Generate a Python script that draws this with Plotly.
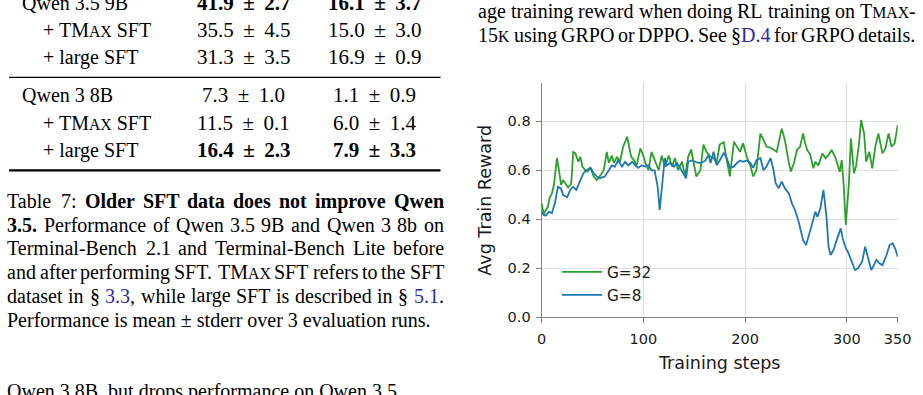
import plotly.graph_objects as go

# ---------------- data ----------------
g32_steps = [0, 2, 3, 6, 8, 10, 12, 15, 17, 19, 21, 24, 26, 29, 31, 33, 36, 38, 40, 43, 45, 48, 51, 54,
             57, 61, 64, 66, 69, 71, 74, 77, 80, 84, 86, 88, 91, 93, 97, 99, 102, 105, 108, 111, 115,
             118, 121, 125, 128, 131, 134, 138, 141, 144, 147, 149, 152, 156, 159, 162, 166, 169, 172,
             175, 179, 182, 185, 189, 192, 195, 198, 202, 205, 208, 211, 215, 218, 221, 226, 231, 236,
             239, 243, 245, 248, 251, 254, 257, 259, 261, 264, 267, 269, 272, 276, 279, 282, 285, 289,
             291, 293, 295, 297, 299, 302, 304, 307, 309, 312, 314, 317, 319, 322, 325, 328, 331, 335,
             338, 341, 344, 347, 350]
g32_reward = [0.465, 0.42, 0.43, 0.45, 0.49, 0.505, 0.54, 0.65, 0.60, 0.54, 0.56, 0.54, 0.53, 0.545,
              0.675, 0.67, 0.635, 0.655, 0.615, 0.60, 0.595, 0.61, 0.575, 0.56, 0.575, 0.60, 0.675,
              0.63, 0.66, 0.63, 0.655, 0.635, 0.695, 0.737, 0.695, 0.655, 0.64, 0.615, 0.69, 0.67,
              0.63, 0.60, 0.675, 0.64, 0.60, 0.66, 0.615, 0.66, 0.615, 0.65, 0.60, 0.635, 0.575,
              0.655, 0.685, 0.64, 0.575, 0.60, 0.705, 0.675, 0.655, 0.65, 0.63, 0.705, 0.715, 0.64,
              0.575, 0.717, 0.697, 0.675, 0.71, 0.65, 0.62, 0.575, 0.60, 0.75, 0.725, 0.697, 0.69,
              0.676, 0.77, 0.725, 0.63, 0.595, 0.63, 0.683, 0.696, 0.75, 0.71, 0.683, 0.663, 0.608,
              0.635, 0.62, 0.669, 0.649, 0.663, 0.683, 0.649, 0.615, 0.594, 0.642, 0.533, 0.377,
              0.547, 0.73, 0.588, 0.615, 0.71, 0.805, 0.75, 0.635, 0.676, 0.608, 0.696, 0.75, 0.669,
              0.69, 0.75, 0.696, 0.71, 0.785]

g8_steps = [0, 2, 4, 7, 10, 13, 16, 19, 21, 25, 28, 31, 34, 38, 41, 44, 48, 51, 54, 57, 62, 66, 69,
            72, 75, 79, 82, 85, 89, 92, 95, 98, 102, 105, 108, 111, 114, 116, 119, 121, 123, 126,
            130, 133, 136, 139, 142, 144, 148, 151, 154, 157, 161, 164, 166, 169, 172, 175, 179,
            182, 185, 189, 192, 195, 198, 202, 205, 208, 211, 215, 218, 221, 225, 228, 230, 233,
            236, 239, 243, 246, 249, 252, 254, 257, 260, 262, 266, 269, 271, 274, 277, 280, 282,
            284, 287, 290, 294, 296, 299, 301, 303, 306, 308, 311, 315, 318, 321, 324, 326, 329,
            332, 335, 339, 342, 345, 348, 350]
g8_reward = [0.43, 0.418, 0.415, 0.43, 0.425, 0.465, 0.533, 0.525, 0.50, 0.49, 0.52, 0.533, 0.52,
             0.56, 0.588, 0.60, 0.61, 0.588, 0.575, 0.567, 0.575, 0.60, 0.62, 0.615, 0.64, 0.615,
             0.635, 0.62, 0.635, 0.62, 0.61, 0.62, 0.615, 0.62, 0.60, 0.60, 0.533, 0.438, 0.56,
             0.65, 0.62, 0.63, 0.615, 0.63, 0.61, 0.588, 0.567, 0.635, 0.64, 0.635, 0.63, 0.63,
             0.64, 0.663, 0.63, 0.676, 0.62, 0.64, 0.67, 0.65, 0.61, 0.615, 0.63, 0.64, 0.635,
             0.64, 0.63, 0.61, 0.64, 0.65, 0.60, 0.615, 0.65, 0.60, 0.547, 0.527, 0.554, 0.527,
             0.506, 0.465, 0.438, 0.40, 0.363, 0.315, 0.295, 0.322, 0.384, 0.431, 0.41, 0.445,
             0.52, 0.41, 0.288, 0.254, 0.275, 0.315, 0.363, 0.322, 0.281, 0.268, 0.247, 0.213,
             0.193, 0.20, 0.227, 0.288, 0.234, 0.193, 0.207, 0.234, 0.22, 0.213, 0.254, 0.295,
             0.302, 0.275, 0.247]

series_names = ["G=32", "G=8"]
x_ticks = [0, 100, 200, 300, 350]
y_ticks = [0.0, 0.2, 0.4, 0.6, 0.8]

# markup: *bold*  ^small caps^  ~link~
table_labels = ["Qwen 3.5 9B", "+ TM^AX^ SFT", "+ large SFT", "Qwen 3 8B", "+ TM^AX^ SFT", "+ large SFT"]
table_indent = [False, True, True, False, True, True]
table_tb21 = ["41.9 ± 2.7", "35.5 ± 4.5", "31.3 ± 3.5", "7.3 ± 1.0", "11.5 ± 0.1", "16.4 ± 2.3"]
table_tblite = ["16.1 ± 3.7", "15.0 ± 3.0", "16.9 ± 0.9", "1.1 ± 0.9", "6.0 ± 1.4", "7.9 ± 3.3"]
table_bold = [True, False, False, False, False, True]

caption_lines = [
    "Table 7: *Older SFT data does not improve Qwen*",
    "*3.5.* Performance of Qwen 3.5 9B and Qwen 3 8b on",
    "Terminal-Bench 2.1 and Terminal-Bench Lite before",
    "and after performing SFT. TM^AX^ SFT refers to the SFT",
    "dataset in § ~3.3~, while large SFT is described in § ~5.1~.",
]
caption_last = "Performance is mean ± stderr over 3 evaluation runs."
body_line = "Qwen 3 8B, but drops performance on Qwen 3.5"
right_lines = [
    "age training reward when doing RL training on T^MAX^-",
    "15^K^ using GRPO or DPPO. See §~D.4~ for GRPO details.",
]

# ---------------- text layout helpers ----------------
W, H = 923, 395
SERIF = "Liberation Serif"
FS = 20.0
NUM_FS = 21.0
SCS = 15.8
LINK = "#2b2ba6"

REG = {' ': 250, '!': 333, '+': 564, ',': 250, '-': 333, '.': 250, ':': 278, '±': 564, '§': 500,
       'A': 722, 'B': 667, 'C': 667, 'D': 722, 'E': 611, 'F': 556, 'G': 722, 'H': 722, 'I': 333,
       'J': 389, 'K': 722, 'L': 611, 'M': 889, 'N': 722, 'O': 722, 'P': 556, 'Q': 722, 'R': 667,
       'S': 556, 'T': 611, 'U': 722, 'V': 722, 'W': 944, 'X': 722, 'Y': 722, 'Z': 611,
       'a': 444, 'b': 500, 'c': 444, 'd': 500, 'e': 444, 'f': 333, 'g': 500, 'h': 500, 'i': 278,
       'j': 278, 'k': 500, 'l': 278, 'm': 778, 'n': 500, 'o': 500, 'p': 500, 'q': 500, 'r': 333,
       's': 389, 't': 278, 'u': 500, 'v': 500, 'w': 722, 'x': 500, 'y': 500, 'z': 444}
for d in "0123456789":
    REG[d] = 500
BOLD = dict(REG)
BOLD.update({'.': 250, ':': 333, 'C': 722, 'E': 667, 'F': 611, 'G': 778, 'O': 778, 'Q': 778,
             'T': 667, 'S': 556, 'W': 1000, 'a': 500, 'b': 556, 'd': 556, 'h': 556, 'k': 556,
             'm': 833, 'n': 556, 'p': 556, 'r': 444, 'u': 556, 't': 333, 'v': 500, 'w': 722})


def parse(line):
    """Return list of words; each word is a list of (text, bold, sc, link) segments."""
    words, cur, seg = [], [], ""
    state = {"b": False, "s": False, "l": False}

    def flush():
        nonlocal seg
        if seg:
            cur.append((seg, state["b"], state["s"], state["l"]))
            seg = ""

    for ch in line:
        if ch in "*^~":
            flush()
            key = {"*": "b", "^": "s", "~": "l"}[ch]
            state[key] = not state[key]
        elif ch == " ":
            flush()
            if cur:
                words.append(cur)
                cur = []
        else:
            seg += ch
    flush()
    if cur:
        words.append(cur)
    return words


def seg_width(seg):
    t, b, s, l = seg
    table = BOLD if b else REG
    size = SCS if s else FS
    return sum(table.get(c, 500) for c in t) * size / 1000.0


def seg_html(seg):
    t, b, s, l = seg
    h = t
    if s:
        h = f"<span style='font-size:{SCS}px'>{h}</span>"
    if l:
        h = f"<span style='color:{LINK}'>{h}</span>"
    if b:
        h = f"<b>{h}</b>"
    return h


def px(x):
    return x / W


def py(y):
    return 1 - y / H


annotations = []


def put(x, baseline, html, anchor="left", size=FS, font=SERIF):
    annotations.append(dict(
        x=px(x), y=py(baseline - 0.35 * size), xref="paper", yref="paper",
        xanchor=anchor, yanchor="middle", text=html, showarrow=False,
        borderpad=0, borderwidth=0,
        font=dict(family=font, size=size, color="black"),
    ))


def line_plain(x, baseline, line, anchor="left"):
    words = parse(line)
    html = " ".join("".join(seg_html(s) for s in w) for w in words)
    put(x, baseline, html, anchor=anchor)


def line_justified(x0, x1, baseline, line):
    words = parse(line)
    widths = [sum(seg_width(s) for s in w) for w in words]
    gap = (x1 - x0 - sum(widths)) / max(len(words) - 1, 1)
    x = x0
    for w, wd in zip(words, widths):
        put(x, baseline, "".join(seg_html(s) for s in w))
        x += wd + gap


def num_html(v, bold):
    s = v.replace(" ± ", " \u2009±\u2009 ")
    return f"<b>{s}</b>" if bold else s


# table
row_baselines = [10, 37.3, 64, 102.3, 130, 157.3]
for i, b in enumerate(row_baselines):
    line_plain(43 if table_indent[i] else 21.5, b, table_labels[i])
    put(243.5, b, num_html(table_tb21[i], table_bold[i]), anchor="center", size=NUM_FS)
    put(374.5, b, num_html(table_tblite[i], table_bold[i]), anchor="center", size=NUM_FS)

shapes = [
    dict(type="line", xref="paper", yref="paper", x0=px(9), x1=px(440.5), y0=py(77.3), y1=py(77.3),
         line=dict(color="black", width=1.3)),
    dict(type="line", xref="paper", yref="paper", x0=px(9), x1=px(440.5), y0=py(170.3), y1=py(170.3),
         line=dict(color="black", width=2.2)),
]

cap_baselines = [208.3, 231.7, 255.3, 279.0, 302.7]
for s, b in zip(caption_lines, cap_baselines):
    line_justified(7.3, 444.0, b, s)
line_plain(7.3, 326.5, caption_last)
line_plain(7.3, 398.0, body_line)

for s, b in zip(right_lines, [18.0, 42.0]):
    line_justified(478.3, 915.5, b, s)

# ---------------- figure ----------------
fig = go.Figure()
fig.add_trace(go.Scatter(x=g32_steps, y=g32_reward, mode="lines", name=series_names[0],
                         line=dict(color="#2ca02c", width=1.8), legendgroup="a"))
fig.add_trace(go.Scatter(x=g8_steps, y=g8_reward, mode="lines", name=series_names[1],
                         line=dict(color="#1f77b4", width=1.8), legendgroup="b"))

SANS = "DejaVu Sans"
axis_common = dict(
    showline=True, linecolor="#808080", linewidth=1.3, mirror=False, automargin=False,
    ticks="outside", ticklen=5, tickwidth=1.2, tickcolor="#808080",
    showgrid=True, gridcolor="#dedede", gridwidth=1, zeroline=False,
    tickfont=dict(family=SANS, size=14.5, color="#1a1a1a"),
)

fig.update_layout(
    width=W, height=H, margin=dict(l=0, r=0, t=0, b=0),
    paper_bgcolor="white", plot_bgcolor="white",
    showlegend=True,
    legend=dict(x=px(557), y=py(255.5), xanchor="left", yanchor="top",
                font=dict(family=SANS, size=15.3, color="#1a1a1a"),
                bgcolor="rgba(0,0,0,0)", tracegroupgap=0, itemwidth=40),
    xaxis=dict(domain=[px(541.7), px(897.7)], range=[0, 350], tickvals=x_ticks,
               ticktext=[str(v) for v in x_ticks],
               title=dict(text="Training steps", font=dict(family=SANS, size=17.5, color="#1a1a1a"),
                          standoff=10),
               ticklabelstandoff=3, **axis_common),
    yaxis=dict(domain=[py(317.3), py(83.3)], range=[0, 0.955], tickvals=y_ticks,
               ticktext=[f"{v:.1f}" for v in y_ticks],
               title=dict(text="Avg Train Reward", font=dict(family=SANS, size=17.5, color="#1a1a1a"),
                          standoff=11),
               ticklabelstandoff=2, **axis_common),
    annotations=annotations, shapes=shapes,
)

fig.write_html("out.html", config={"displayModeBar": False})
